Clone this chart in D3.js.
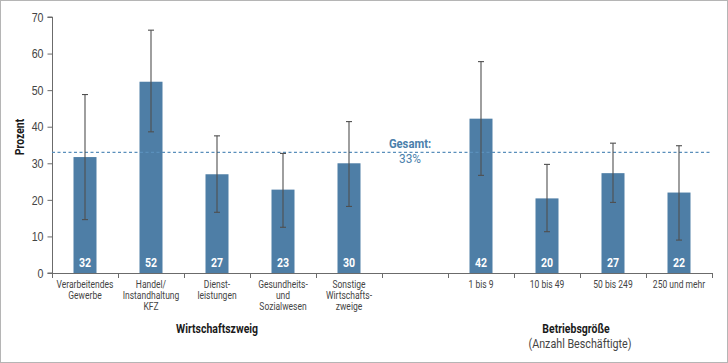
<!DOCTYPE html>
<html>
<head>
<meta charset="utf-8">
<script src="https://cdn.jsdelivr.net/npm/d3@7"></script>
<style>
  body { margin: 0; background: #fff; }
  svg { display: block; font-family: "Roboto", "Liberation Sans", sans-serif; }
</style>
</head>
<body>
<svg id="chart" width="728" height="363"></svg>
<script>
// categories (empty slot separates the two groups)
var categories = ["Verarbeitendes|Gewerbe", "Handel/|Instandhaltung|KFZ", "Dienst-|leistungen",
                  "Gesundheits-|und|Sozialwesen", "Sonstige|Wirtschafts-|zweige", "",
                  "1 bis 9", "10 bis 49", "50 bis 249", "250 und mehr"];
var values   = [32, 52, 27, 23, 30, null, 42, 20, 27, 22];
var barTops  = [31.7, 52.3, 27.0, 22.8, 30.0, null, 42.2, 20.4, 27.3, 22.0];
var errLow   = [14.6, 38.6, 16.6, 12.5, 18.2, null, 26.7, 11.3, 19.3, 9.0];
var errHigh  = [48.8, 66.4, 37.5, 32.7, 41.4, null, 57.8, 29.7, 35.5, 34.8];
var yTicks   = [0, 10, 20, 30, 40, 50, 60, 70];
var overall  = 33;

var svg = d3.select("#chart");
var barColor = "#4e7ea6";
var axisColor = "#6b6b6b";
var textColor = "#444";

// the original uses a condensed face; squeeze Roboto horizontally instead
function squeezed(parent, x, y, str, sx, size, weight, fill, anchor) {
    var g = parent.append("g").attr("transform", "translate(" + x + "," + y + ") scale(" + sx + ",1)");
    return g.append("text").attr("text-anchor", anchor || "middle").attr("fill", fill)
        .style("font-size", size + "px").style("font-weight", weight).text(str);
}

// outer frame
svg.append("rect").attr("x", 0.5).attr("y", 0.5).attr("width", 727).attr("height", 362)
   .attr("fill", "none").attr("stroke", "#b5b5b5");

var x = d3.scaleBand().domain(d3.range(categories.length)).range([52, 712]);
var y = d3.scaleLinear().domain([0, 70]).range([273, 17]);

// y axis
var ySx = 0.82;
var yAxis = svg.append("g").attr("transform", "translate(52.5,0)")
    .call(d3.axisLeft(y).tickValues(yTicks).tickSize(5));
yAxis.select(".domain").attr("stroke", axisColor).attr("d", "M-5," + y(70) + "H0V" + y(0) + "H-5");
yAxis.selectAll(".tick line").attr("stroke", axisColor);
yAxis.selectAll("text").attr("fill", textColor).style("font-size", "13px")
     .attr("x", -9 / ySx).attr("transform", "scale(" + ySx + ",1)");

// x axis line + ticks at band edges
var edges = d3.range(categories.length + 1).map(function(i) { return 52 + i * x.step(); });
svg.append("line").attr("x1", 52).attr("x2", 712).attr("y1", 273.5).attr("y2", 273.5)
   .attr("stroke", axisColor);
svg.selectAll(".xtick").data(edges).enter().append("line")
   .attr("x1", function(d) { return Math.round(d) + 0.5; })
   .attr("x2", function(d) { return Math.round(d) + 0.5; })
   .attr("y1", 273).attr("y2", 278).attr("stroke", axisColor);

// category labels
categories.forEach(function(c, i) {
    if (!c) return;
    c.split("|").forEach(function(l, k) {
        squeezed(svg, x(i) + x.bandwidth() / 2, 288 + k * 11, l, 0.74, 11.5, "normal", textColor);
    });
});

// bars
var bw = 23;
var idx = d3.range(categories.length).filter(function(i) { return values[i] !== null; });
svg.selectAll(".bar").data(idx).enter().append("rect")
   .attr("x", function(i) { return x(i) + x.bandwidth() / 2 - bw / 2; })
   .attr("y", function(i) { return y(barTops[i]); })
   .attr("width", bw)
   .attr("height", function(i) { return y(0) - y(barTops[i]); })
   .attr("fill", barColor);

// overall dashed line
svg.append("line").attr("x1", 52).attr("x2", 712).attr("y1", y(overall)).attr("y2", y(overall))
   .attr("stroke", "#5a8fbb").attr("stroke-width", 1.3).attr("stroke-dasharray", "3,2.5");
squeezed(svg, 410, 148, "Gesamt:", 0.9, 12.5, "bold", "#4b7fab");
squeezed(svg, 410, 163, overall + "%", 0.95, 12.5, "normal", "#4b7fab");

// error bars
var eb = svg.selectAll(".err").data(idx).enter().append("g");
eb.append("line")
  .attr("x1", function(i) { return x(i) + x.bandwidth() / 2; })
  .attr("x2", function(i) { return x(i) + x.bandwidth() / 2; })
  .attr("y1", function(i) { return y(errLow[i]); })
  .attr("y2", function(i) { return y(errHigh[i]); })
  .attr("stroke", "#4f4f4f").attr("stroke-width", 1.1);
[errLow, errHigh].forEach(function(arr) {
    eb.append("line")
      .attr("x1", function(i) { return x(i) + x.bandwidth() / 2 - 3; })
      .attr("x2", function(i) { return x(i) + x.bandwidth() / 2 + 3; })
      .attr("y1", function(i) { return y(arr[i]); })
      .attr("y2", function(i) { return y(arr[i]); })
      .attr("stroke", "#4f4f4f").attr("stroke-width", 1.1);
});

// value labels inside bars
idx.forEach(function(i) {
    squeezed(svg, x(i) + x.bandwidth() / 2, 267, values[i], 0.88, 12, "bold", "#fff");
});

// y label
svg.append("g").attr("transform", "translate(24,137) rotate(-90) scale(0.8,1)")
   .append("text").attr("text-anchor", "middle")
   .attr("fill", "#1a1a1a").style("font-size", "13px").style("font-weight", "bold").text("Prozent");

// group titles
squeezed(svg, 217, 333, "Wirtschaftszweig", 0.84, 12.5, "bold", "#1a1a1a");
squeezed(svg, 576, 333, "Betriebsgröße", 0.84, 12.5, "bold", "#1a1a1a");
squeezed(svg, 580, 348, "(Anzahl Beschäftigte)", 0.86, 12.5, "normal", textColor);
</script>
</body>
</html>
